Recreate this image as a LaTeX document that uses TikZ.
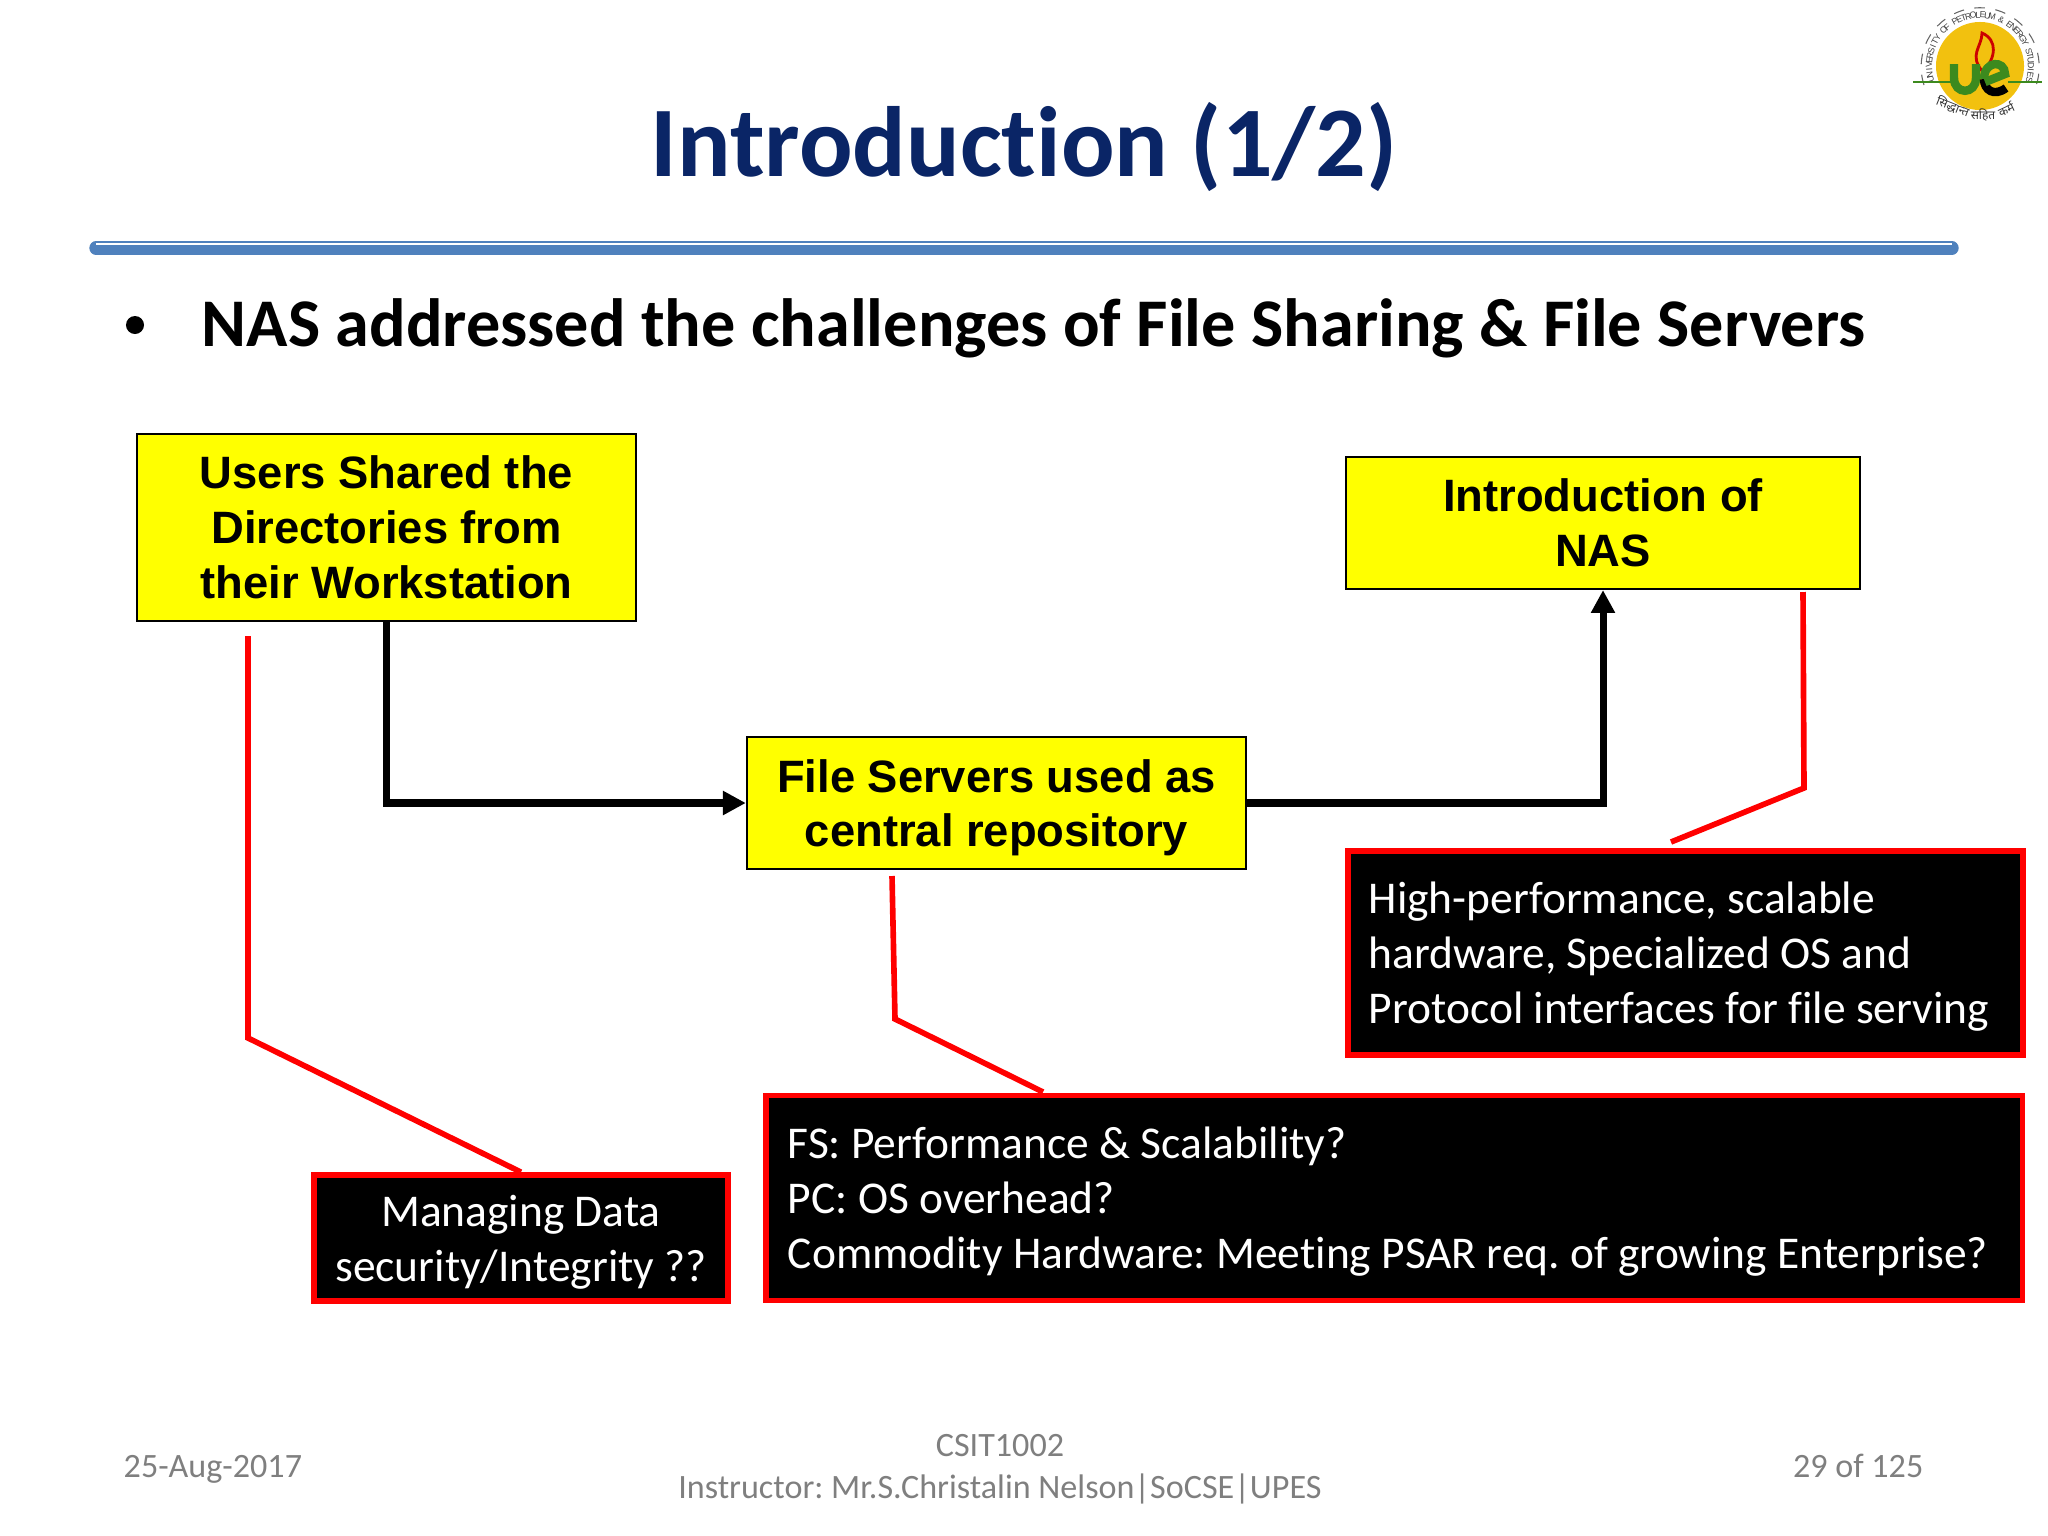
\documentclass[tikz,border=0pt]{standalone}
\usepackage{fontspec}
\usepackage{xcolor}
\usetikzlibrary{arrows.meta}
\setmainfont{Carlito}[Ligatures=NoCommon]
\newfontfamily\arialfont{Liberation Sans}
\newfontfamily\hindifont[Script=Devanagari]{Noto Sans}
\definecolor{titleblue}{HTML}{0A2566}
\definecolor{rulecol}{HTML}{4F81BD}
\definecolor{stageyellow}{HTML}{FFFF00}
\definecolor{calloutred}{HTML}{FF0000}
\definecolor{footgray}{HTML}{7F7F7F}
\definecolor{logoyellow}{HTML}{F2C10F}
\definecolor{logogreen}{HTML}{3C8A1E}
% Last line of a box without its descenders, so that boxes centre alike
\newcommand{\nodepth}[1]{\raisebox{0pt}[\height][0pt]{#1}}

\begin{document}
\frenchspacing
\begin{tikzpicture}[x=0.01cm, y=-0.01cm]
    % Box and line style definitions
    \tikzset{
        stage/.style={draw=black, line width=0.6pt, fill=stageyellow, align=center, inner sep=0pt,
            font=\arialfont\bfseries\fontsize{12.9}{15.6}\selectfont},
        remark/.style={draw=calloutred, line width=1.6pt, fill=black, text=white, inner sep=0pt,
            font=\fontsize{12.93}{15.6}\selectfont},
        flow/.style={black, line width=2pt, -{Triangle[length=6.5pt, width=6.5pt]}},
        callout/.style={calloutred, line width=1.6pt},
        footer/.style={text=footgray, inner sep=0pt, font=\fontsize{9.7}{9.7}\selectfont},
        motto/.style={inner sep=0pt, text=black!80, font=\hindifont\fontsize{3.4}{4}\selectfont}
    }
    \useasboundingbox (0, 0) rectangle (2048, 1536);

    % ==========================================
    % HEADER
    % ==========================================
    \node[text=titleblue, inner sep=0pt, font=\bfseries\fontsize{28.4}{32}\selectfont] (title) at (1024, 147) {Introduction (1/2)};
    \coordinate (ruleL) at (96, 248);
    \coordinate (ruleR) at (1952, 248);
    \draw[rulecol, line width=3.8pt, line cap=round] (ruleL) -- (ruleR);
    \draw[white, line width=0.6pt] (96, 244) -- (1952, 244);
    \node[inner sep=0pt, anchor=west, font=\bfseries\fontsize{19.4}{22}\selectfont] (point) at (201, 328) {NAS addressed the challenges of File Sharing \& File Servers};
    \node[circle, fill=black, inner sep=0pt, minimum size=0.18cm] (dot) at (135, 325) {};

    % ==========================================
    % LOGO
    % ==========================================
    \fill[logoyellow] (1980, 66) circle (0.44cm);
    \draw[black!60, line width=0.3pt, dashed] (1924, 85) arc (198:-18:0.59cm);
    % Seal lettering, one glyph at a time round the disc
    \foreach \ch [count=\i] in {U,N,I,V,E,R,S,I,T,Y,{},O,F,{},P,E,T,R,O,L,E,U,M,{},\&,{},E,N,E,R,G,Y,{},S,T,U,D,I,E,S} {
        \pgfmathsetmacro{\ang}{195-(\i-1)*5.4}
        \node[inner sep=0pt, text=black!75, rotate=\ang-90, font=\arialfont\fontsize{2.5}{3}\selectfont] (seal\i)
            at ({1980+51*cos(\ang)}, {66-51*sin(\ang)}) {\ch};
    }
    \draw[logogreen, line width=0.6pt] (1913, 82) -- (1952, 82);
    \draw[logogreen, line width=0.6pt] (2008, 82) -- (2042, 82);
    \draw[red!80!black, line width=0.8pt] (1983, 72) .. controls (1968, 55) and (1982, 47) .. (1982, 33) .. controls (1998, 40) and (1996, 58) .. (1983, 72);
    \draw[logogreen, line width=2.4pt] (1954, 64) -- (1954, 78) .. controls (1954, 95) and (1976, 95) .. (1976, 78) -- (1976, 64);
    \draw[black, line width=2.4pt] (2006, 88) .. controls (1994, 97) and (1984, 90) .. (1984, 79);
    \draw[logogreen, line width=2.4pt] (1984, 79) .. controls (1984, 60) and (2005, 60) .. (2005, 74) -- (1985, 82);
    \node[motto, rotate=-22] (mottoA) at (1953, 107) {सिद्धान्त};
    \node[motto] (mottoB) at (1983, 115) {सहित};
    \node[motto, rotate=25] (mottoC) at (2006, 109) {कर्म};

    % ==========================================
    % STAGES
    % ==========================================
    \node[stage, minimum width=4.99cm, minimum height=1.87cm] (users) at (386.5, 527.5) {Users Shared the\\Directories from\\their Workstation};
    \node[stage, minimum width=4.99cm, minimum height=1.32cm] (servers) at (996.5, 803) {File Servers used as\\\nodepth{central repository}};
    \node[stage, minimum width=5.14cm, minimum height=1.32cm] (nas) at (1603, 523) {Introduction of\\NAS};

    % Arrows between the stages
    \draw[flow] (users.south) |- (servers.west);
    \draw[flow] (servers.east) -| (nas.south);

    % ==========================================
    % REMARKS
    % ==========================================
    \node[remark, align=center, minimum width=4.14cm, minimum height=1.26cm] (security) at (521, 1238) {Managing Data\\\nodepth{security/Integrity ??}};
    \node[remark, align=flush left, anchor=west, minimum width=12.56cm, minimum height=2.05cm, text width=12.12cm] (fsbox) at (763, 1198) {FS: Performance \& Scalability?\\PC: OS overhead?\\\nodepth{Commodity Hardware: Meeting PSAR req. of growing Enterprise?}};
    \node[remark, align=flush left, anchor=west, minimum width=6.75cm, minimum height=2.04cm, text width=6.33cm] (hwbox) at (1345, 953) {High-performance, scalable\\hardware, Specialized OS and\\\nodepth{Protocol interfaces for file serving}};

    % Free ends of the callouts, just off the stages
    \coordinate (usersEnd) at (248, 636);
    \coordinate (usersBend) at (248, 1038);
    \coordinate (serversEnd) at (892, 876);
    \coordinate (serversBend) at (895, 1019);
    \coordinate (fsTop) at (1043, 1092);
    \coordinate (nasEnd) at (1803, 592);
    \coordinate (nasBend) at (1804, 788);
    \coordinate (hwTop) at (1671, 842);

    \draw[callout] (usersEnd) -- (usersBend) -- (security.north);
    \draw[callout] (serversEnd) -- (serversBend) -- (fsTop);
    \draw[callout] (nasEnd) -- (nasBend) -- (hwTop);

    % ==========================================
    % FOOTER
    % ==========================================
    \node[footer, anchor=base west] (date) at (123, 1477) {25-Aug-2017};
    \node[footer, anchor=base] (course) at (1000, 1456) {CSIT1002};
    \node[footer, anchor=base] (tutor) at (1000, 1498) {Instructor: Mr.S.Christalin Nelson|SoCSE|UPES};
    \node[footer, anchor=base east] (page) at (1924, 1477) {29 of 125};
\end{tikzpicture}
\end{document}
